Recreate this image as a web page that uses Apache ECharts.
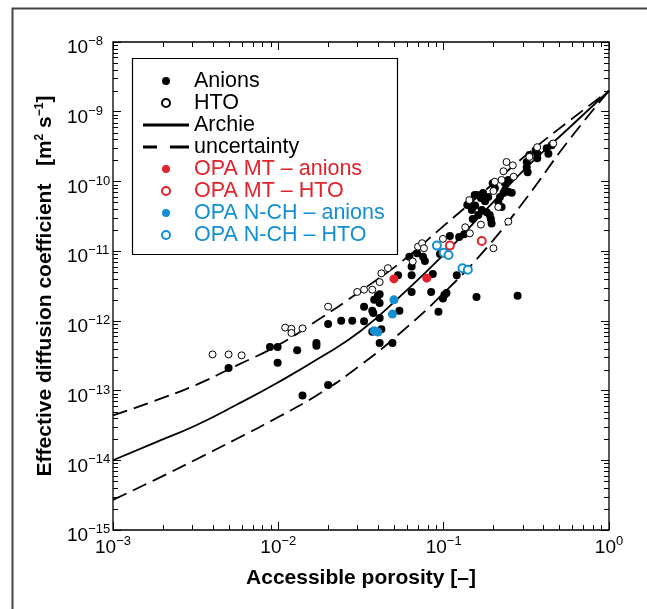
<!DOCTYPE html>
<html><head><meta charset="utf-8">
<script src="https://cdn.jsdelivr.net/npm/echarts@6/dist/echarts.min.js"></script>
<style>html,body{margin:0;padding:0;background:#fff}#c{width:647px;height:609px}</style>
</head><body><div id="c"></div>
<script>
// ---- data: [accessible porosity, effective diffusion coefficient (m2/s)] ----
const anions = [[0.005,2.1e-13],[0.014,8.5e-14],[0.02,1.2e-13],[0.0089,4.2e-13],[0.0099,4.2e-13],[0.0099,2.5e-13],[0.013,3.8e-13],[0.017,4.8e-13],[0.017,4.4e-13],[0.02,9.0e-13],[0.024,1.0e-12],[0.028,1.0e-12],[0.033,9.9e-13],[0.033,1.6e-12],[0.037,1.4e-12],[0.0375,1.3e-12],[0.038,2.0e-12],[0.04,2.3e-12],[0.041,2.4e-12],[0.041,1.8e-12],[0.041,1.1e-12],[0.042,7.6e-13],[0.037,7.0e-13],[0.041,4.8e-13],[0.049,4.8e-13],[0.054,1.4e-12],[0.053,4.5e-12],[0.064,2.6e-12],[0.064,4.5e-12],[0.064,6.0e-12],[0.062,8.3e-12],[0.069,9.3e-12],[0.075,8.3e-12],[0.077,7.2e-12],[0.084,2.6e-12],[0.086,4.7e-12],[0.093,1.35e-12],[0.095,9.1e-12],[0.099,2.1e-12],[0.101,2.35e-12],[0.104,2.5e-12],[0.109,1.65e-11],[0.12,4.5e-12],[0.124,1.6e-11],[0.133,1.75e-11],[0.158,2.2e-12],[0.28,2.3e-12],[0.144,5.1e-11],[0.148,3.9e-11],[0.17,3.9e-11],[0.19,3.3e-11],[0.195,2.5e-11],[0.193,2.9e-11],[0.198,9.4e-11],[0.204,8.0e-11],[0.214,5.1e-11],[0.219,6.0e-11],[0.23,6.8e-11],[0.235,7.5e-11],[0.246,7.1e-11],[0.258,6.9e-11],[0.224,4.3e-11],[0.235,9.4e-11],[0.246,1.05e-10],[0.318,1.9e-10],[0.318,1.6e-10],[0.322,1.35e-10],[0.33,2.4e-10],[0.368,2.5e-10],[0.368,2.15e-10],[0.42,3.0e-10],[0.43,2.5e-10],[0.45,3.3e-10],[0.36,2.8e-10],[0.155,4.5e-11],[0.159,6.4e-11],[0.168,5.8e-11],[0.173,6.8e-11],[0.162,3.3e-11],[0.15,2.9e-11],[0.154,6.4e-11],[0.178,5.2e-11],[0.186,6.0e-11],[0.182,3.6e-11],[0.139,4.6e-11]];
const hto = [[0.004,3.3e-13],[0.005,3.3e-13],[0.006,3.2e-13],[0.011,8.0e-13],[0.012,7.7e-13],[0.012,6.7e-13],[0.014,7.8e-13],[0.02,1.6e-12],[0.03,2.6e-12],[0.033,2.8e-12],[0.037,2.8e-12],[0.041,3.6e-12],[0.042,4.8e-12],[0.046,5.7e-12],[0.065,7.1e-12],[0.07,1.16e-11],[0.074,1.3e-11],[0.076,1.1e-11],[0.099,1.5e-11],[0.135,2.2e-11],[0.144,1.8e-11],[0.168,2.4e-11],[0.2,1.1e-11],[0.246,2.65e-11],[0.143,5.4e-11],[0.2,7.3e-11],[0.204,9.9e-11],[0.224,1.05e-10],[0.23,1.4e-10],[0.24,1.9e-10],[0.262,1.7e-10],[0.265,1.17e-10],[0.214,4.3e-11],[0.33,2.25e-10],[0.368,3.1e-10],[0.46,3.5e-10]];
const mtAnions = [[0.05,4.0e-12],[0.079,4.1e-12]];
const mtHto = [[0.109,1.2e-11],[0.17,1.4e-11]];
const nchAnions = [[0.05,2.0e-12],[0.049,1.25e-12],[0.038,7.2e-13],[0.040,6.9e-13]];
const nchHto = [[0.091,1.2e-11],[0.1,9.5e-12],[0.107,8.8e-12],[0.13,5.7e-12],[0.14,5.4e-12]];
const archie = [[0.001,1e-14],[0.00178,1.78e-14],[0.00316,3.16e-14],[0.00562,6.3e-14],[0.01,1.32e-13],[0.0178,2.95e-13],[0.0316,7.2e-13],[0.0562,2.4e-12],[0.1,8.9e-12],[0.178,3.8e-11],[0.316,1.58e-10],[0.562,5.6e-10],[1,2e-9]];
const uncUpper = [[0.001,4.4e-14],[0.00178,7.1e-14],[0.00316,1.2e-13],[0.00562,2.3e-13],[0.01,4.5e-13],[0.0178,1.07e-12],[0.0316,2.7e-12],[0.0562,7.2e-12],[0.1,2.3e-11],[0.178,7.4e-11],[0.316,2.4e-10],[0.562,7.1e-10],[1,2e-9]];
const uncLower = [[0.001,2.7e-15],[0.00178,5.2e-15],[0.00316,1.02e-14],[0.00562,2.04e-14],[0.01,4.17e-14],[0.0178,9.1e-14],[0.0316,2.34e-13],[0.0562,7.1e-13],[0.1,2.5e-12],[0.178,1.05e-11],[0.316,5.75e-11],[0.562,3.7e-10],[1,2e-9]];
// axis ranges (decades) and text
const xDecades = [-3, 0];
const yDecades = [-15, -8];
const xTitle = 'Accessible porosity [–]';
const yTitleMain = 'Effective diffusion coefficient   [m';
const legendNames = ['Anions','HTO','Archie','uncertainty','OPA MT – anions','OPA MT – HTO','OPA N-CH – anions','OPA N-CH – HTO'];

const RED = '#e3232c', BLUE = '#138fd3';
const FF = 'Liberation Sans, Arial, Helvetica, sans-serif';
function minorLogValues(d0, d1) {
  const out = [];
  for (let d = d0; d < d1; d++) for (let k = 2; k <= 9; k++) out.push(k * Math.pow(10, d));
  return out;
}
const supText = v => {
  const e = Math.round(Math.log10(v));
  return '{b|10}{s|' + String(e).replace('-', '−') + '}';
};
const rich = {
  b: {fontSize: 19, fontFamily: FF, color: '#000', lineHeight: 26},
  s: {fontSize: 13, fontFamily: FF, color: '#000', lineHeight: 12, verticalAlign: 'top'}
};
const noLine = {show: false, onZero: false};
const majorTick = {show: true, inside: true, length: 8, lineStyle: {color: '#000', width: 1}};
const frameGraphics = [
  {id: 'frame', type: 'rect', shape: {x: 12.5, y: 8.5, width: 700, height: 700}, style: {fill: 'none', stroke: '#444', lineWidth: 2}, z: -1},
  {id: 'legendBox', type: 'rect', shape: {x: 132.5, y: 58.5, width: 265, height: 196}, style: {fill: '#fff', stroke: '#000', lineWidth: 1.2}, z: 1}
];

const chart = echarts.init(document.getElementById('c'), null, {renderer: 'canvas'});
chart.setOption({
  backgroundColor: '#fff',
  animation: false,
  grid: {left: 113, top: 42, right: 38, bottom: 79, outerBoundsMode: 'none', containLabel: false,
         show: true, borderColor: '#000', borderWidth: 1.3, backgroundColor: 'transparent'},
  graphic: frameGraphics,
  legend: {
    orient: 'vertical', left: 143, top: 70, padding: 0, itemWidth: 46, itemHeight: 8, itemGap: 0,
    selectedMode: false, z: 5,
    textStyle: {fontSize: 21.5, lineHeight: 21, fontFamily: FF, color: '#000'},
    data: [
      {name: legendNames[0]},
      {name: legendNames[1]},
      {name: legendNames[2], icon: 'path://M0,0H46V3H0Z'},
      {name: legendNames[3], icon: 'path://M0,0H14V3H0Z M27,0H46V3H27Z'},
      {name: legendNames[4], textStyle: {color: RED}},
      {name: legendNames[5], textStyle: {color: RED}},
      {name: legendNames[6], textStyle: {color: BLUE}},
      {name: legendNames[7], textStyle: {color: BLUE}}
    ]
  },
  xAxis: [
    {type: 'log', logBase: 10, min: Math.pow(10, xDecades[0]), max: Math.pow(10, xDecades[1]), position: 'bottom',
     axisLine: noLine, splitLine: {show: false},
     axisTick: majorTick,
     axisLabel: {formatter: supText, rich: rich, margin: 5},
     name: xTitle, nameLocation: 'middle', nameGap: 38,
     nameTextStyle: {fontSize: 21, fontWeight: 'bold', fontFamily: FF, color: '#000'}},
    {type: 'log', logBase: 10, min: Math.pow(10, xDecades[0]), max: Math.pow(10, xDecades[1]), position: 'top',
     axisLine: noLine, splitLine: {show: false}, axisLabel: {show: false},
     axisTick: majorTick}
  ],
  yAxis: [
    {type: 'log', logBase: 10, min: Math.pow(10, yDecades[0]), max: Math.pow(10, yDecades[1]), interval: 1, position: 'left',
     axisLine: noLine, splitLine: {show: false},
     axisTick: majorTick,
     axisLabel: {formatter: supText, rich: rich, align: 'left', margin: 46, padding: [12, 0, 0, 0]},
     name: '{t|' + yTitleMain + '}{u|2}{t| s}{u|−1}{t|]}', nameLocation: 'middle', nameGap: 51, nameRotate: 90,
     nameTextStyle: {rich: {
       t: {fontSize: 21, fontWeight: 'bold', fontFamily: FF, color: '#000', lineHeight: 24},
       u: {fontSize: 12, fontWeight: 'bold', fontFamily: FF, color: '#000', lineHeight: 12, verticalAlign: 'top'}}}},
    {type: 'log', logBase: 10, min: Math.pow(10, yDecades[0]), max: Math.pow(10, yDecades[1]), interval: 1, position: 'right',
     axisLine: noLine, splitLine: {show: false}, axisLabel: {show: false},
     axisTick: majorTick}
  ],
  series: [
    {name: legendNames[2], type: 'line', data: archie, showSymbol: false, symbol: 'none', smooth: 0.5, z: 2,
     itemStyle: {color: '#000'}, lineStyle: {color: '#000', width: 1.8}},
    {name: legendNames[3], type: 'line', data: uncUpper, showSymbol: false, symbol: 'none', smooth: 0.5, z: 2,
     itemStyle: {color: '#000'}, lineStyle: {color: '#000', width: 1.8, type: [15, 7]}},
    {name: legendNames[3], type: 'line', data: uncLower, showSymbol: false, symbol: 'none', smooth: 0.5, z: 2,
     itemStyle: {color: '#000'}, lineStyle: {color: '#000', width: 1.8, type: [15, 7]}},
    {name: legendNames[0], type: 'scatter', data: anions, symbol: 'circle', symbolSize: 8, z: 3,
     itemStyle: {color: '#000', opacity: 1}},
    {name: legendNames[1], type: 'scatter', data: hto, symbol: 'circle', symbolSize: 7, z: 3,
     itemStyle: {color: '#fff', borderColor: '#000', borderWidth: 1, opacity: 1}},
    {name: legendNames[4], type: 'scatter', data: mtAnions, symbol: 'circle', symbolSize: 9, z: 4,
     itemStyle: {color: RED, opacity: 1}},
    {name: legendNames[5], type: 'scatter', data: mtHto, symbol: 'circle', symbolSize: 8, z: 4,
     itemStyle: {color: '#fff', borderColor: RED, borderWidth: 2, opacity: 1}},
    {name: legendNames[6], type: 'scatter', data: nchAnions, symbol: 'circle', symbolSize: 9, z: 4,
     itemStyle: {color: BLUE, opacity: 1}},
    {name: legendNames[7], type: 'scatter', data: nchHto, symbol: 'circle', symbolSize: 8, z: 4,
     itemStyle: {color: '#fff', borderColor: BLUE, borderWidth: 2, opacity: 1}}
  ]
});

// minor log ticks (2..9 per decade), placed through the axes' own scales
(function addMinorTicks() {
  const L = 5;
  const xl = chart.convertToPixel({xAxisIndex: 0}, Math.pow(10, xDecades[0]));
  const xr = chart.convertToPixel({xAxisIndex: 0}, Math.pow(10, xDecades[1]));
  const yb = chart.convertToPixel({yAxisIndex: 0}, Math.pow(10, yDecades[0]));
  const yt = chart.convertToPixel({yAxisIndex: 0}, Math.pow(10, yDecades[1]));
  const els = [];
  const st = {stroke: '#000', lineWidth: 1};
  minorLogValues(xDecades[0], xDecades[1]).forEach((v, i) => {
    const px = Math.round(chart.convertToPixel({xAxisIndex: 0}, v)) + 0.5;
    els.push({id: 'mxb' + i, type: 'line', shape: {x1: px, y1: yb, x2: px, y2: yb - L}, style: st, z: 6, silent: true});
    els.push({id: 'mxt' + i, type: 'line', shape: {x1: px, y1: yt, x2: px, y2: yt + L}, style: st, z: 6, silent: true});
  });
  minorLogValues(yDecades[0], yDecades[1]).forEach((v, i) => {
    const py = Math.round(chart.convertToPixel({yAxisIndex: 0}, v)) + 0.5;
    els.push({id: 'myl' + i, type: 'line', shape: {x1: xl, y1: py, x2: xl + L, y2: py}, style: st, z: 6, silent: true});
    els.push({id: 'myr' + i, type: 'line', shape: {x1: xr, y1: py, x2: xr - L, y2: py}, style: st, z: 6, silent: true});
  });
  chart.setOption({graphic: frameGraphics.concat(els)});
})();
</script></body></html>
